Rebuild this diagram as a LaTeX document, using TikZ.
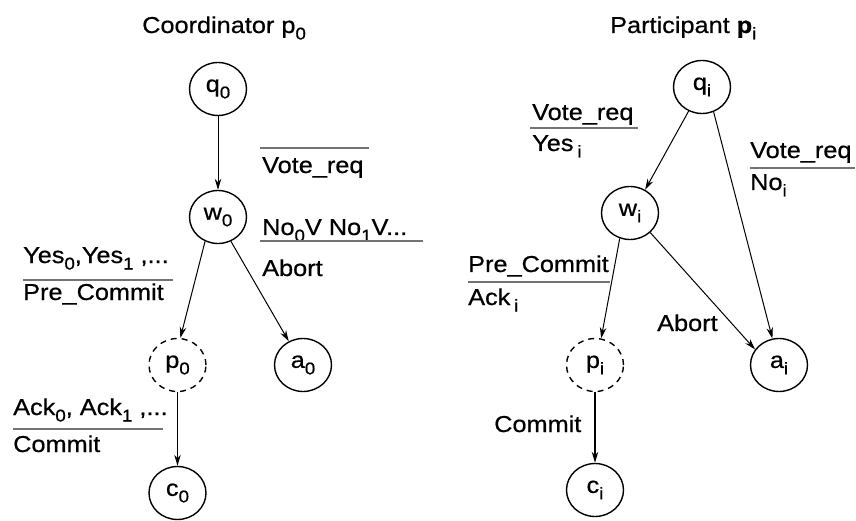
\documentclass[tikz,border=0pt]{standalone}
\usepackage{fontspec}
\setmainfont[FakeStretch=1.1,FakeBold=0.6]{Liberation Sans}
\usetikzlibrary{arrows.meta,shapes.geometric}
\newcommand\mysub[1]{\raisebox{-6.5pt}{\fontsize{17}{17}\selectfont #1}}
\begin{document}
\begin{tikzpicture}[x=1pt,y=-1pt,
  st/.style={ellipse, draw, line width=1.4pt, minimum width=57pt, minimum height=53pt, inner sep=0pt, font=\fontsize{23}{26}\selectfont},
  dst/.style={st, dash pattern=on 6pt off 5pt},
  lbl/.style={anchor=base west, inner sep=0pt, font=\fontsize{23}{26}\selectfont},
  arr/.style={-{Stealth[length=11pt,width=6.5pt]}, line width=1pt},
  bar/.style={draw=black!55, line width=1.8pt}]
\useasboundingbox (0,0) rectangle (856,521);
\fill[white] (0,0) rectangle (856,521);

% titles
\node[lbl] (t1) at (142,33) {Coordinator p\mysub{0}};
\node[lbl] (t2) at (610,33) {Participant \textbf{p}\mysub{i}};

% coordinator states
\node[st]  (q0) at (218,89)  {q\mysub{0}};
\node[st]  (w0) at (218,217) {w\mysub{0}};
\node[dst] (p0) at (177.5,365) {p\mysub{0}};
\node[st]  (a0) at (303,365) {a\mysub{0}};
\node[st]  (c0) at (177.5,493) {c\mysub{0}};

% participant states
\node[st]  (qi) at (702,87)  {q\mysub{i}};
\node[st]  (wi) at (630,213) {w\mysub{i}};
\node[dst] (pi) at (595,365) {p\mysub{i}};
\node[st]  (ai) at (779,365) {a\mysub{i}};
\node[st]  (ci) at (595,490) {c\mysub{i}};

% coordinator transitions
\draw[arr] (q0.south) -- (w0.north);
\draw[arr] (w0.242) -- (p0.84);
\draw[arr] (w0.298) -- (a0.121);
\draw[arr, line width=1.3pt] (p0.south) -- (c0.north);

% participant transitions
\draw[arr] (qi.241) -- (wi.57);
\draw[arr] (qi.295) -- (ai.104);
\draw[arr] (wi.248) -- (pi.77);
\draw[arr] (wi.316) -- (ai.147);
\draw[arr, line width=1.3pt] (pi.south) -- (ci.north);

% coordinator labels
\draw[bar] (260,148) -- (369,148);
\node[lbl] (l1) at (262,173) {Vote\_req};
\node[lbl] (l2) at (262,235) {No\mysub{0}V No\mysub{1}V...};
\draw[bar] (260,241) -- (423,241);
\node[lbl] (l3) at (262,276) {Abort};
\node[lbl] (l4) at (23,263) {Yes\mysub{0},Yes\mysub{1} ,...};
\draw[bar] (23,280) -- (173,280);
\node[lbl] (l5) at (23,300) {Pre\_Commit};
\node[lbl] (l6) at (13,415) {Ack\mysub{0}, Ack\mysub{1} ,...};
\draw[bar] (13,429) -- (163,429);
\node[lbl] (l7) at (13,452) {Commit};

% participant labels
\node[lbl] (r1) at (532,120) {Vote\_req};
\draw[bar] (530,128) -- (638,128);
\node[lbl] (r2) at (532,151) {Yes\,\mysub{i}};
\node[lbl] (r3) at (750,158) {Vote\_req};
\draw[bar] (750,168) -- (855,168);
\node[lbl] (r4) at (750,190) {No\mysub{i}};
\node[lbl] (r5) at (468,272) {Pre\_Commit};
\draw[bar] (468,282) -- (610,282);
\node[lbl] (r6) at (468,305) {Ack\,\mysub{i}};
\node[lbl] (r7) at (657,331) {Abort};
\node[lbl] (r8) at (494,432) {Commit};
\end{tikzpicture}
\end{document}
